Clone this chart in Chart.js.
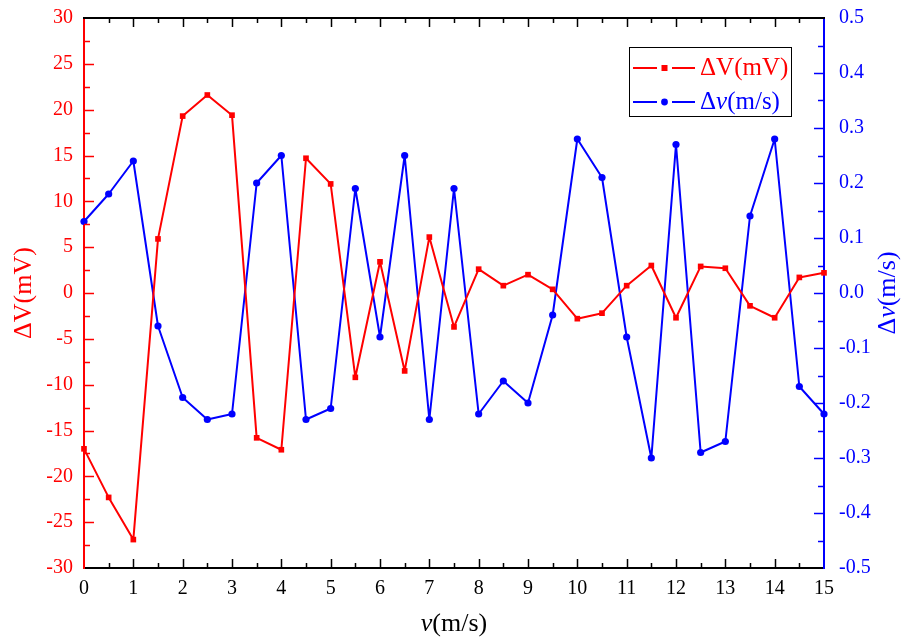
<!DOCTYPE html>
<html>
<head>
<meta charset="utf-8">
<script src="https://cdn.jsdelivr.net/npm/chart.js@4/dist/chart.umd.min.js"></script>
<style>
  html,body{margin:0;padding:0;background:#fff;}
  #wrap{width:908px;height:639px;}
</style>
</head>
<body>
<div id="wrap"><canvas id="myChart" width="908" height="639"></canvas></div>
<script>
// speed values (m/s)
const speeds = [0,0.5,1,1.5,2,2.5,3,3.5,4,4.5,5,5.5,6,6.5,7,7.5,8,8.5,9,9.5,10,10.5,11,11.5,12,12.5,13,13.5,14,14.5,15];
// voltage deviation (mV)
const deltaV = [-17,-22.3,-26.9,5.9,19.3,21.6,19.4,-15.8,-17.1,14.7,11.9,-9.2,3.4,-8.5,6.1,-3.7,2.6,0.8,2.0,0.4,-2.8,-2.2,0.8,3.0,-2.7,2.9,2.7,-1.4,-2.7,1.7,2.2];
// speed deviation (m/s)
const deltaSpeed = [0.13,0.18,0.24,-0.06,-0.19,-0.23,-0.22,0.20,0.25,-0.23,-0.21,0.19,-0.08,0.25,-0.23,0.19,-0.22,-0.16,-0.20,-0.04,0.28,0.21,-0.08,-0.30,0.27,-0.29,-0.27,0.14,0.28,-0.17,-0.22];

const RED = '#ff0000', BLUE = '#0000ff';
const SERIF = '"Liberation Serif", "Times New Roman", serif';

function richText(ctx, parts, x, y, size, color){
  // parts: [text, italic]
  let widths = parts.map(p => { ctx.font = (p[1]?'italic ':'') + size + 'px ' + SERIF; return ctx.measureText(p[0]).width; });
  let total = widths.reduce((a,b)=>a+b,0);
  let cx = x - total/2;
  ctx.fillStyle = color;
  ctx.textBaseline = 'middle';
  ctx.textAlign = 'left';
  parts.forEach((p,i) => {
    ctx.font = (p[1]?'italic ':'') + size + 'px ' + SERIF;
    ctx.fillText(p[0], cx, y);
    cx += widths[i];
  });
}

const framePlugin = {
  id:'frame',
  afterDraw(chart){
    const ctx = chart.ctx, a = chart.chartArea;
    const sx = chart.scales.x, sy = chart.scales.y, sy1 = chart.scales.y1;
    ctx.save();
    // top border
    ctx.strokeStyle = '#000'; ctx.lineWidth = 2;
    ctx.beginPath(); ctx.moveTo(a.left-1, a.top); ctx.lineTo(a.right+1, a.top); ctx.stroke();

    // x ticks bottom + top
    ctx.lineWidth = 1.5;
    for(let v=0; v<=15; v+=0.5){
      const px = Math.round(sx.getPixelForValue(v)) + 0.5;
      const len = (v % 1 === 0) ? 9 : 5;
      if(v===0 || v===15) continue;
      ctx.beginPath();
      ctx.moveTo(px, a.bottom); ctx.lineTo(px, a.bottom - len);
      ctx.moveTo(px, a.top); ctx.lineTo(px, a.top + len);
      ctx.stroke();
    }
    // left ticks
    ctx.strokeStyle = RED;
    for(let v=-30; v<=30; v+=2.5){
      if(v===-30 || v===30) continue;
      const py = Math.round(sy.getPixelForValue(v)) + 0.5;
      const len = (v % 5 === 0) ? 10 : 6;
      ctx.beginPath(); ctx.moveTo(a.left, py); ctx.lineTo(a.left + len, py); ctx.stroke();
    }
    // right ticks
    ctx.strokeStyle = BLUE;
    for(let i=-10; i<=10; i++){
      if(i===-10 || i===10) continue;
      const v = i*0.05;
      const py = Math.round(sy1.getPixelForValue(v)) + 0.5;
      const len = (i % 2 === 0) ? 10 : 6;
      ctx.beginPath(); ctx.moveTo(a.right, py); ctx.lineTo(a.right - len, py); ctx.stroke();
    }

    // axis titles
    ctx.save();
    ctx.translate(24, (a.top+a.bottom)/2); ctx.rotate(-Math.PI/2);
    richText(ctx, [['ΔV(mV)',false]], 0, 0, 26, RED);
    ctx.restore();
    ctx.save();
    ctx.translate(888, (a.top+a.bottom)/2); ctx.rotate(-Math.PI/2);
    richText(ctx, [['Δ',false],['v',true],['(m/s)',false]], 0, 0, 26, BLUE);
    ctx.restore();
    richText(ctx, [['v',true],['(m/s)',false]], (a.left+a.right)/2, 624, 26, '#000');

    // legend
    const lx = 629, ly = 47, lw = 162, lh = 69;
    ctx.fillStyle = '#fff'; ctx.fillRect(lx, ly, lw, lh);
    ctx.strokeStyle = '#000'; ctx.lineWidth = 1;
    ctx.strokeRect(lx+0.5, ly+0.5, lw, lh);
    const rows = [
      {y: ly+21, color: RED, square: true, parts: [['ΔV(mV)',false]]},
      {y: ly+55, color: BLUE, square: false, parts: [['Δ',false],['v',true],['(m/s)',false]]}
    ];
    rows.forEach(r => {
      ctx.strokeStyle = r.color; ctx.lineWidth = 2;
      ctx.beginPath();
      ctx.moveTo(lx+4, r.y); ctx.lineTo(lx+28, r.y);
      ctx.moveTo(lx+43, r.y); ctx.lineTo(lx+66, r.y);
      ctx.stroke();
      ctx.fillStyle = r.color;
      if(r.square){ ctx.fillRect(lx+32.5, r.y-3, 6, 6); }
      else { ctx.beginPath(); ctx.arc(lx+35.5, r.y, 3.4, 0, Math.PI*2); ctx.fill(); }
      // left-aligned text
      let cx = lx + 71;
      r.parts.forEach(p => {
        ctx.font = (p[1]?'italic ':'') + '25px ' + SERIF;
        ctx.textAlign = 'left'; ctx.textBaseline = 'middle';
        ctx.fillStyle = r.color;
        ctx.fillText(p[0], cx, r.y);
        cx += ctx.measureText(p[0]).width;
      });
    });
    ctx.restore();
  }
};

const chart = new Chart('myChart', {
  type:'line',
  data:{
    labels: speeds,
    datasets:[{
      label:'ΔV(mV)',
      data: speeds.map((s,i)=>({x:s, y:deltaV[i]})),
      yAxisID:'y',
      borderColor: RED,
      backgroundColor: RED,
      borderWidth: 2,
      borderJoinStyle: 'round',
      pointStyle:'rect',
      pointRadius: 4,
      pointBorderWidth: 0,
      tension: 0,
      clip: false
    },{
      label:'Δv(m/s)',
      data: speeds.map((s,i)=>({x:s, y:deltaSpeed[i]})),
      yAxisID:'y1',
      borderColor: BLUE,
      backgroundColor: BLUE,
      borderWidth: 2,
      borderJoinStyle: 'round',
      pointStyle:'circle',
      pointRadius: 3.6,
      pointBorderWidth: 0,
      tension: 0,
      clip: false
    }]
  },
  options:{
    responsive:false,
    animation:false,
    layout:{padding:{top:18, left:0, right:0, bottom:0}},
    plugins:{
      legend:{display:false},
      tooltip:{enabled:false}
    },
    scales:{
      x:{
        type:'linear', min:0, max:15,
        grid:{display:false, drawTicks:false},
        border:{display:true, color:'#000', width:2},
        ticks:{stepSize:1, color:'#000', padding:9, font:{family:SERIF, size:20}},
        afterFit(s){ s.height = 71; s.paddingLeft = 0; s.paddingRight = 0; }
      },
      y:{
        type:'linear', position:'left', min:-30, max:30,
        grid:{display:false, drawTicks:false},
        border:{display:true, color:RED, width:2},
        ticks:{stepSize:5, color:RED, padding:11, font:{family:SERIF, size:20}},
        afterFit(s){ s.width = 84; s.paddingTop = 0; s.paddingBottom = 0; }
      },
      y1:{
        type:'linear', position:'right', min:-0.5, max:0.5,
        grid:{display:false, drawTicks:false},
        border:{display:true, color:BLUE, width:2},
        ticks:{stepSize:0.1, color:BLUE, padding:15, font:{family:SERIF, size:20},
          callback:(v)=>Number(v).toFixed(1)},
        afterFit(s){ s.width = 84; s.paddingTop = 0; s.paddingBottom = 0; }
      }
    }
  },
  plugins:[framePlugin]
});
</script>
</body>
</html>
